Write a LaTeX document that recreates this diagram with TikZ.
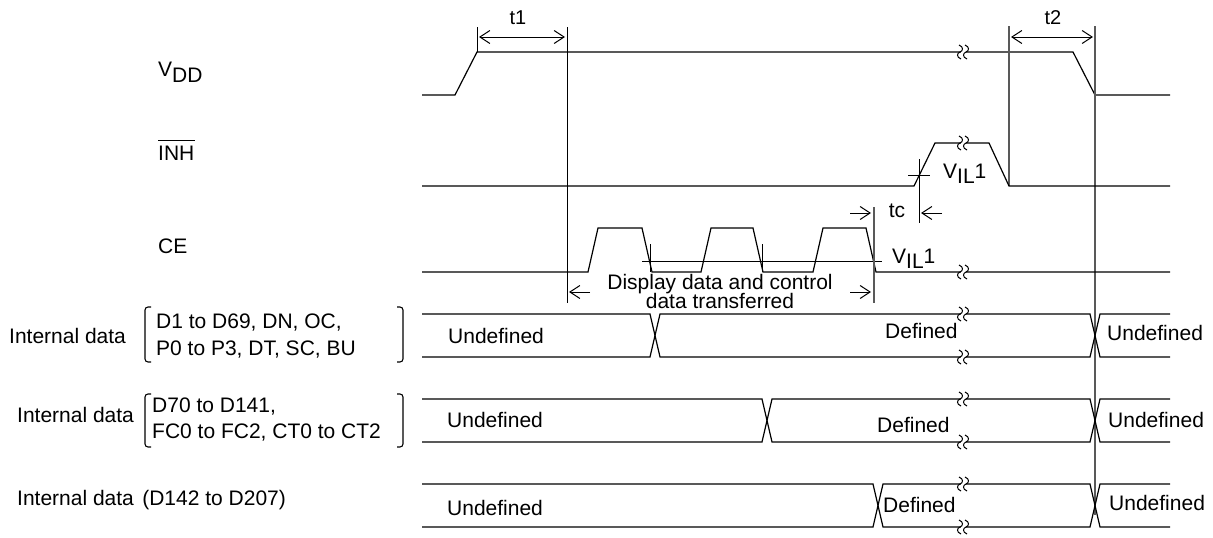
\documentclass[tikz,border=0pt]{standalone}
\usepackage{fontspec}
\setmainfont{Liberation Sans}
\usetikzlibrary{arrows.meta}
\begin{document}
\begin{tikzpicture}[x=1pt,y=-1pt,
  sig/.style={line width=1.2pt, line join=miter},
  vline/.style={line width=1.2pt, draw=black!65},
  lbl/.style={inner sep=0pt, font=\fontsize{21}{24}\selectfont},
  smalllbl/.style={inner sep=0pt, font=\fontsize{20}{23}\selectfont},
  dimarrow/.style={line width=1pt, {Straight Barb[length=10pt,width=13pt]}-{Straight Barb[length=10pt,width=13pt]}},
  tiparrow/.style={line width=1pt, -{Straight Barb[length=10pt,width=13pt]}},
  brack/.style={line width=1.1pt, rounded corners=3pt},
  brk/.pic={
    \fill[white] (-2.5,-3) rectangle (2.5,3);
    \draw[line width=1pt] (-4,-7) .. controls (1,-5) and (0,-1) .. (-3,0) .. controls (-6,1) and (-7,5) .. (-2,7);
    \draw[line width=1pt] (2,-7) .. controls (7,-5) and (6,-1) .. (3,0) .. controls (0,1) and (-1,5) .. (4,7);
  }]
\useasboundingbox (0,0) rectangle (1213,538);

% ---------- signal names ----------
\node[lbl, anchor=base west] (vdd) at (158,76) {V\raisebox{-6pt}{DD}};
\node[lbl, anchor=base west] (inh) at (158,160) {INH};
\draw[line width=1pt] ([yshift=5pt]inh.north west) -- ([yshift=5pt]inh.north east);
\node[lbl, anchor=base west] (ce) at (158,253) {CE};

% ---------- VDD ----------
\draw[sig] (422,95) -- (455,95) -- (477,52) -- (1073,52) -- (1095,95) -- (1170,95);
\pic at (963,52) {brk};
\coordinate (t1a) at (477,27);
\coordinate (t1b) at (567,27);
\coordinate (t2a) at (1009,26);
\coordinate (t2b) at (1095,26);
\draw[line width=1pt] (t1a) -- (477,52);
\draw[line width=1pt] (t1b) -- (567,303);
\draw[vline] (t2a) -- (1009,186);
\draw[vline] (t2b) -- (1095,515);
\draw[dimarrow] ([xshift=2pt]t1a |- 0,37) -- ([xshift=-2pt]t1b |- 0,37);
\draw[dimarrow] ([xshift=2pt]t2a |- 0,37) -- ([xshift=-2pt]t2b |- 0,37);
\node[smalllbl, anchor=base] (t1) at (518,24) {t1};
\node[smalllbl, anchor=base] (t2) at (1053,24) {t2};

% ---------- INH ----------
\draw[sig] (422,186) -- (914,186) -- (935,143) -- (989,143) -- (1009,186) -- (1170,186);
\pic at (963,143) {brk};
\draw[line width=1pt] (919,159) -- (919,223);
\draw[line width=1pt] (908,175) -- (930,175);
\node[lbl, anchor=base west] (vil1) at (943,178) {V\raisebox{-5pt}{IL}1};
\node[lbl, anchor=base] (tc) at (897,217) {tc};
\draw[tiparrow] (850,213) -- (871,213);
\draw[tiparrow] (942,213) -- (921,213);

% ---------- CE ----------
\draw[sig] (422,272) -- (588,272) -- (598,228) -- (642,228) -- (652,272)
  -- (701,272) -- (711,228) -- (753,228) -- (763,272)
  -- (813,272) -- (823,228) -- (866,228) -- (876,272) -- (1170,272);
\pic at (963,272) {brk};
\draw[line width=1pt] (642,261) -- (882,261);
\draw[line width=1pt] (650,244) -- (650,272);
\draw[line width=1pt] (762,244) -- (762,272);
\draw[vline] (874,207) -- (874,303);
\node[lbl, anchor=base west] (vil2) at (892,263) {V\raisebox{-5pt}{IL}1};
\draw[tiparrow] (590,292) -- (569,292);
\draw[tiparrow] (850,292) -- (871,292);
\node[lbl, anchor=base] (disp1) at (720,289) {Display data and control};
\node[lbl, anchor=base] (disp2) at (720,308) {data transferred};

% ---------- Internal data row 1 ----------
\node[lbl, anchor=base west] (id1) at (9,343) {Internal data};
\draw[brack] (151,307) -- (145,307) -- (145,362) -- (151,362);
\draw[brack] (397,307) -- (403,307) -- (403,362) -- (397,362);
\node[lbl, anchor=base west] (id1a) at (156,328) {D1 to D69, DN, OC,};
\node[lbl, anchor=base west] (id1b) at (156,355) {P0 to P3, DT, SC, BU};
\draw[sig] (422,314) -- (650,314) -- (660,357) -- (1090,357) -- (1100,314) -- (1170,314);
\draw[sig] (422,357) -- (650,357) -- (660,314) -- (1090,314) -- (1100,357) -- (1170,357);
\pic at (963,314) {brk};
\pic at (963,357) {brk};
\node[lbl, anchor=base west] (u1) at (448,343) {Undefined};
\node[lbl, anchor=base west] (d1) at (885,338) {Defined};
\node[lbl, anchor=base west] (v1) at (1107,340) {Undefined};

% ---------- Internal data row 2 ----------
\node[lbl, anchor=base west] (id2) at (17,422) {Internal data};
\draw[brack] (151,394) -- (145,394) -- (145,447) -- (151,447);
\draw[brack] (397,394) -- (403,394) -- (403,447) -- (397,447);
\node[lbl, anchor=base west] (id2a) at (152,412) {D70 to D141,};
\node[lbl, anchor=base west] (id2b) at (152,438) {FC0 to FC2, CT0 to CT2};
\draw[sig] (422,399) -- (762,399) -- (772,442) -- (1090,442) -- (1100,399) -- (1170,399);
\draw[sig] (422,442) -- (762,442) -- (772,399) -- (1090,399) -- (1100,442) -- (1170,442);
\pic at (963,399) {brk};
\pic at (963,442) {brk};
\node[lbl, anchor=base west] (u2) at (447,427) {Undefined};
\node[lbl, anchor=base west] (d2) at (877,432) {Defined};
\node[lbl, anchor=base west] (v2) at (1108,427) {Undefined};

% ---------- Internal data row 3 ----------
\node[lbl, anchor=base west] (id3) at (17,505) {Internal data\hspace{0.4em}(D142 to D207)};
\draw[sig] (422,484) -- (873,484) -- (883,527) -- (1090,527) -- (1100,484) -- (1170,484);
\draw[sig] (422,527) -- (873,527) -- (883,484) -- (1090,484) -- (1100,527) -- (1170,527);
\pic at (963,484) {brk};
\pic at (963,527) {brk};
\node[lbl, anchor=base west] (u3) at (447,515) {Undefined};
\node[lbl, anchor=base west] (d3) at (883,512) {Defined};
\node[lbl, anchor=base west] (v3) at (1109,510) {Undefined};
\end{tikzpicture}
\end{document}
